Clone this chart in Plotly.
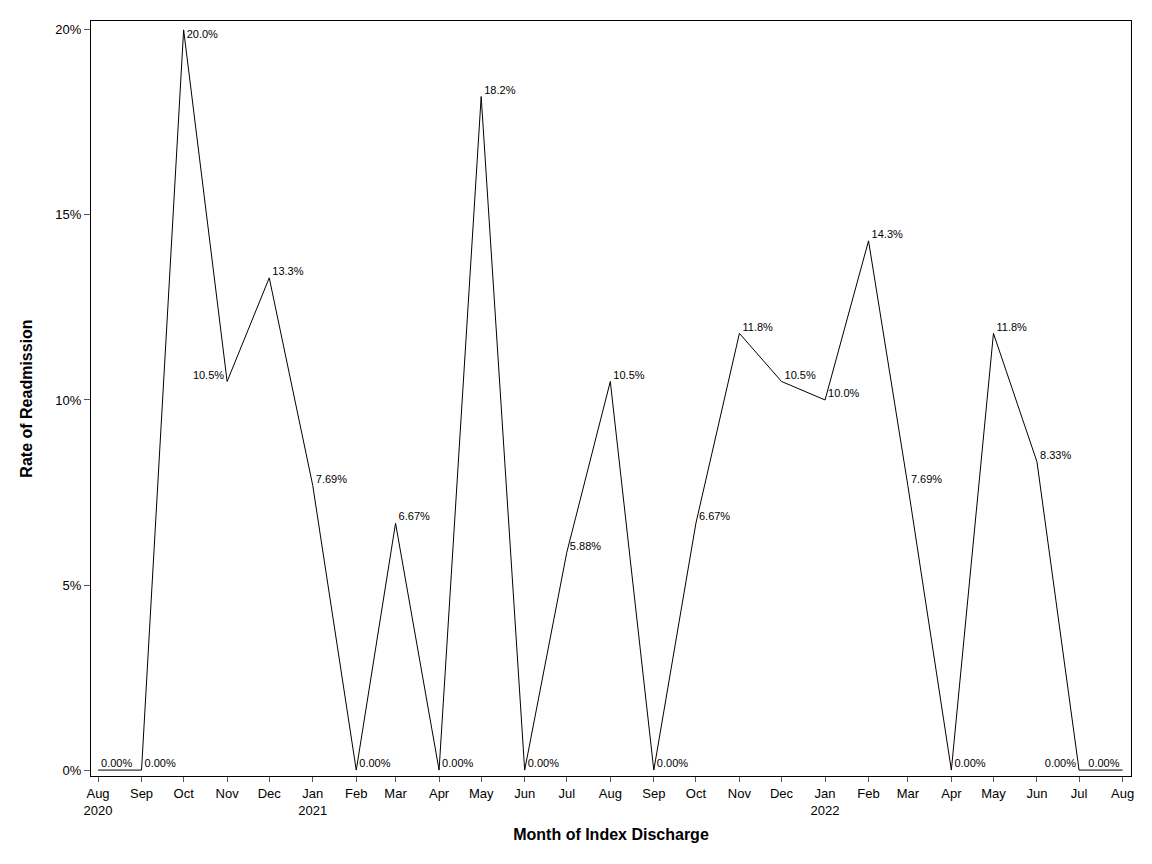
import plotly.graph_objects as go
import pandas as pd

# monthly readmission rates, Aug 2020 - Aug 2022
months = pd.date_range("2020-08-01", "2022-08-01", freq="MS")
rates = [0.0, 0.0, 0.200, 0.105, 0.133, 0.0769, 0.0, 0.0667, 0.0, 0.182,
         0.0, 0.0588, 0.105, 0.0, 0.0667, 0.118, 0.105, 0.100, 0.143, 0.0769,
         0.0, 0.118, 0.0833, 0.0, 0.0]
labels = ["0.00%", "0.00%", "20.0%", "10.5%", "13.3%", "7.69%", "0.00%", "6.67%",
          "0.00%", "18.2%", "0.00%", "5.88%", "10.5%", "0.00%", "6.67%", "11.8%",
          "10.5%", "10.0%", "14.3%", "7.69%", "0.00%", "11.8%", "8.33%", "0.00%",
          "0.00%"]
label_pos = ["top right"] * len(rates)
label_pos[2] = "bottom right"
label_pos[3] = "top left"
label_pos[23] = "top left"
label_pos[24] = "top left"

# month name, year only on first tick and at January
tick_text = []
for i, m in enumerate(months):
    if i == 0 or m.month == 1:
        tick_text.append(m.strftime("%b") + "<br>" + m.strftime("%Y"))
    else:
        tick_text.append(m.strftime("%b"))

# pad labels away from the line
label_text = [
    (labels[i] + " ") if "left" in label_pos[i] else (" " + labels[i])
    for i in range(len(labels))
]

font = "Liberation Sans, Arial, sans-serif"

fig = go.Figure()
fig.add_trace(go.Scatter(
    x=months, y=rates, mode="lines+text",
    line=dict(color="black", width=1),
    text=label_text, textposition=label_pos,
    textfont=dict(family=font, size=11, color="black"),
    cliponaxis=False, showlegend=False,
))

fig.update_xaxes(
    range=["2020-07-27", "2022-08-07"],
    tickvals=months, ticktext=tick_text,
    ticks="outside", ticklen=5, tickcolor="#555",
    showline=True, linecolor="black", mirror=True, showgrid=False, zeroline=False,
    tickfont=dict(family=font, size=13, color="black"), automargin=False,
    title=dict(text="<b>Month of Index Discharge</b>",
               font=dict(family=font, size=16, color="black"), standoff=12),
)
fig.update_yaxes(
    range=[-0.0016, 0.2024],
    tickvals=[0, 0.05, 0.10, 0.15, 0.20], tickformat=".0%",
    ticks="outside", ticklen=6, tickcolor="#555",
    showline=True, linecolor="black", mirror=True, showgrid=False, zeroline=False,
    tickfont=dict(family=font, size=13, color="black"), automargin=False,
    title=dict(text="<b>Rate of Readmission</b>",
               font=dict(family=font, size=16, color="black"), standoff=18),
)
# page has an 8px body margin, so the figure is a bit smaller than the window
fig.update_layout(
    width=1144, height=856,
    margin=dict(l=83, r=21, t=13, b=88),
    plot_bgcolor="white", paper_bgcolor="white",
)

fig.write_html("out.html")
